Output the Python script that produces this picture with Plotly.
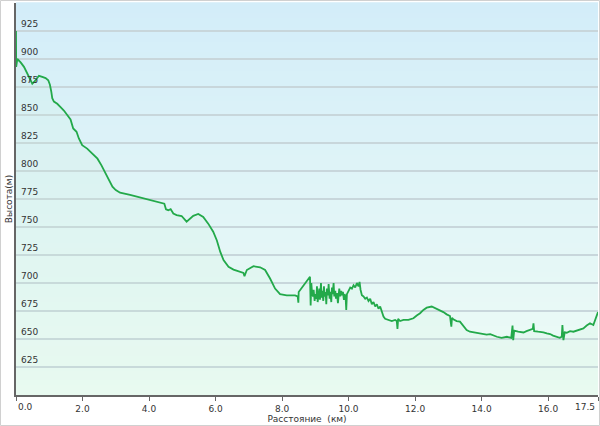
import plotly.graph_objects as go

dist_km = [
    0.0, 0.0, 0.005, 0.04, 0.14, 0.24, 0.34, 0.44, 0.49, 0.56, 0.69, 0.79, 0.89, 0.97,
    1.02, 1.06, 1.09, 1.14, 1.24, 1.34, 1.44, 1.54, 1.64, 1.72, 1.82, 1.89, 1.99,
    2.14, 2.29, 2.45, 2.57, 2.70, 2.80, 2.90, 3.00, 3.13, 3.43, 3.83, 4.23, 4.46,
    4.51, 4.58, 4.65, 4.73, 4.83, 4.98, 5.13, 5.23, 5.33, 5.48, 5.63, 5.78, 5.93,
    6.04, 6.14, 6.24, 6.39, 6.54, 6.69, 6.84, 6.87, 6.94, 7.14, 7.34, 7.49, 7.64,
    7.79, 7.94, 8.14, 8.39, 8.47, 8.49, 8.50, 8.79, 8.84,
    8.86, 8.88, 8.90, 8.93, 8.95, 8.98, 9.00, 9.03, 9.05, 9.07, 9.10, 9.12, 9.14,
    9.17, 9.19, 9.21, 9.24, 9.26, 9.28, 9.31, 9.33, 9.35, 9.38, 9.40, 9.43, 9.45,
    9.48, 9.50, 9.52, 9.55, 9.57, 9.60, 9.62, 9.65, 9.68, 9.70, 9.72, 9.75, 9.78,
    9.80, 9.83, 9.86, 9.88, 9.91, 9.93, 9.95, 9.98, 10.00, 10.05, 10.10, 10.15,
    10.20, 10.25, 10.30, 10.33, 10.36, 10.40,
    10.45, 10.50, 10.55, 10.60, 10.65, 10.70, 10.75, 10.80, 10.85, 10.90, 10.95,
    11.00, 11.05, 11.10, 11.20, 11.30, 11.40, 11.45, 11.47, 11.49, 11.55, 11.65,
    11.80, 11.95, 12.05, 12.15, 12.25, 12.35, 12.50, 12.65, 12.75, 12.85, 12.95,
    13.05, 13.09, 13.11, 13.15, 13.25, 13.35, 13.45, 13.55, 13.65, 13.75, 13.90,
    14.05, 14.15, 14.26, 14.36, 14.46, 14.60, 14.76, 14.89, 14.93, 14.95, 14.98,
    15.10, 15.26, 15.35, 15.46, 15.54, 15.56, 15.58, 15.70, 15.86, 15.96, 16.06,
    16.15, 16.26, 16.35, 16.41, 16.43, 16.46, 16.50, 16.56, 16.66, 16.76, 16.90,
    17.06, 17.16, 17.26, 17.36, 17.42, 17.46, 17.50,
]

elev_m = [
    900, 925, 893, 900, 897, 893, 887, 881, 878, 880, 885, 884, 883, 881,
    877, 871, 865, 862, 860, 857, 854, 850, 846, 838, 835, 829, 823,
    820, 816, 811, 805, 798, 792, 786, 783, 780.6, 778.6, 775.6, 772.6, 770.8,
    765.8, 765, 766, 762, 760.7, 759.8, 754.8, 757, 760, 761.6, 759, 753, 745.8,
    738, 728, 720.5, 714.5, 712, 710.7, 709, 706, 711.6, 715, 714, 711.6, 704,
    695, 690, 689, 689, 688, 682.5, 692, 704, 705.6,
    680, 700, 692, 688, 694, 684, 690, 686, 697, 683, 690, 695, 685,
    700, 687, 693, 684, 697, 688, 692, 681, 695, 689, 699, 686, 692,
    683, 696, 690, 700, 688, 693, 686, 691, 682, 689, 695, 688, 693,
    689, 692, 685, 690, 688, 676, 690, 692, 694, 696, 695, 698,
    696, 700, 697, 701, 694, 689,
    688, 686, 687, 684, 686, 681, 683, 679, 681, 677, 679,
    674, 670, 668, 667, 666, 667, 666, 659, 668, 666, 667,
    667, 668.5, 671, 673, 676, 678, 679, 677, 675, 674, 672,
    670.5, 661, 669, 667.5, 666, 665.5, 662, 658, 656.5, 656, 655.5,
    655, 654, 654.4, 653, 652, 651, 652, 651, 662, 649, 657.5,
    656.5, 655.8, 657, 658, 659, 664, 657, 656.5, 656, 655, 654.4,
    653, 651.5, 651, 652, 662.5, 649, 656, 655.6, 657, 656.5, 658,
    659.5, 662, 664, 662.5, 667, 670, 674,
]

y_ticks = [625, 650, 675, 700, 725, 750, 775, 800, 825, 850, 875, 900, 925]
x_ticks = [0, 2, 4, 6, 8, 10, 12, 14, 16, 17.5]
x_tick_text = ["0.0", "2.0", "4.0", "6.0", "8.0", "10.0", "12.0", "14.0", "16.0", "17.5"]

FONT = "DejaVu Sans"
TXT = "#333333"

# inner labels on the axis itself; the two end labels are anchored to their
# ticks as annotations (first one left-aligned, last one right-aligned)
x_tick_disp = [""] + x_tick_text[1:-1] + [""]

fig = go.Figure()
fig.add_trace(go.Scatter(
    x=dist_km, y=elev_m, mode="lines",
    line=dict(color="#23a94a", width=1.8),
    fill="tozeroy", fillcolor="rgba(200,242,212,0.15)",
    hoverinfo="skip", showlegend=False,
))

# vertical gradient background (light blue top -> pale green bottom)
top = (211, 237, 249)
bot = (238, 252, 245)
n = 80
shapes = []
for i in range(n):
    t = i / (n - 1)
    c = tuple(round(bot[k] + (top[k] - bot[k]) * t) for k in range(3))
    shapes.append(dict(
        type="rect", xref="paper", yref="paper",
        x0=0, x1=1, y0=i / n, y1=(i + 1) / n + 0.002,
        fillcolor="rgb(%d,%d,%d)" % c, line=dict(width=0), layer="below",
    ))
# outer border
shapes.append(dict(type="rect", xref="paper", yref="paper",
                   x0=-15.5 / 582, x1=1 + 1.5 / 582, y0=-30.5 / 392, y1=1 + 2.5 / 392,
                   line=dict(color="#d0d0d0", width=1), fillcolor="rgba(0,0,0,0)",
                   layer="above"))

# y tick labels drawn inside the plot, just above each gridline
annotations = [
    dict(x=0, xref="paper", y=v, yref="y", text=str(v), showarrow=False,
         xanchor="left", yanchor="bottom", xshift=3, yshift=0,
         font=dict(family=FONT, size=9, color=TXT))
    for v in y_ticks
]
annotations.append(dict(x=x_ticks[0], xref="x", y=0, yref="paper", text=x_tick_text[0],
                        showarrow=False, xanchor="left", yanchor="top", xshift=0, yshift=-5,
                        font=dict(family=FONT, size=9, color=TXT)))
annotations.append(dict(x=x_ticks[-1], xref="x", y=0, yref="paper", text=x_tick_text[-1],
                        showarrow=False, xanchor="right", yanchor="top", xshift=-1, yshift=-5,
                        font=dict(family=FONT, size=9, color=TXT)))

fig.update_layout(
    width=600, height=426,
    margin=dict(l=16, r=2, t=3, b=31),
    paper_bgcolor="white", plot_bgcolor="rgba(0,0,0,0)",
    font=dict(family=FONT, size=9, color=TXT),
    shapes=shapes, annotations=annotations,
    showlegend=False,
)
fig.update_xaxes(
    range=[0, 17.5], tickvals=x_ticks, ticktext=x_tick_disp,
    showgrid=False, zeroline=False,
    showline=True, linecolor="#666666", linewidth=1.5,
    ticks="outside", ticklen=4, tickcolor="#666666",
    tickfont=dict(family=FONT, size=9, color=TXT),
    title=dict(text="Расстояние  (км)", font=dict(family=FONT, size=9, color=TXT), standoff=2),
    automargin=False,
)
fig.update_yaxes(
    range=[600, 950], tickvals=y_ticks, showticklabels=False,
    showgrid=True, gridcolor="#c8d6db", gridwidth=1.5,
    zeroline=False,
    showline=True, linecolor="#666666", linewidth=1.5,
    ticks="",
    title=dict(text="Высота(м)", font=dict(family=FONT, size=9, color=TXT), standoff=0),
    automargin=False,
)

fig.write_html("out.html", config={"displayModeBar": False},
               post_script="document.body.style.margin='0';document.body.style.padding='0';document.body.style.overflow='hidden';")
